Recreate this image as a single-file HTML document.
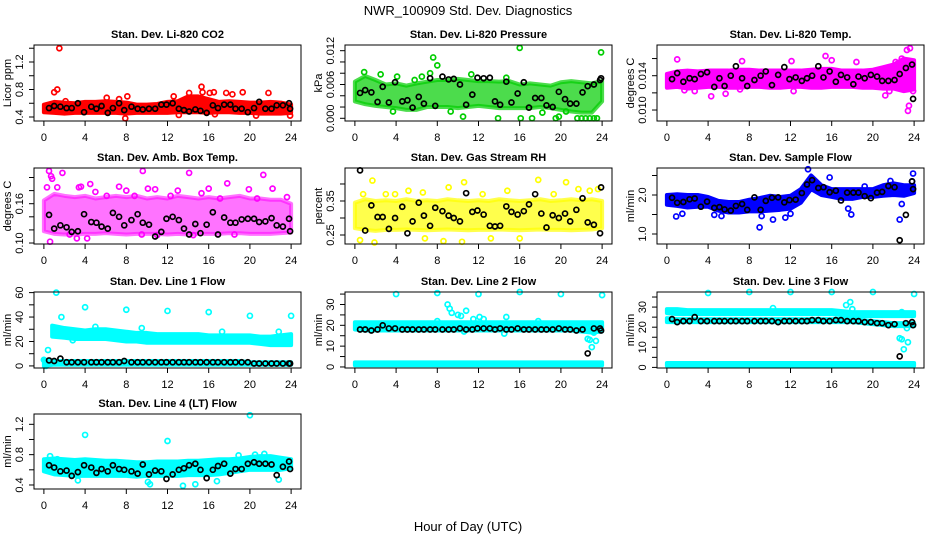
<!DOCTYPE html>
<html><head><meta charset="utf-8"><style>
html,body{margin:0;padding:0;background:#fff;}
svg{display:block;font-family:"Liberation Sans",Arial,sans-serif;}
</style></head><body>
<svg id="chart" width="936" height="540" viewBox="0 0 936 540" xmlns="http://www.w3.org/2000/svg">
<rect x="0" y="0" width="936" height="540" fill="#fff"/>
<text x="468" y="15" text-anchor="middle" font-size="13">NWR_100909 Std. Dev. Diagnostics</text>
<text x="468" y="531" text-anchor="middle" font-size="13">Hour of Day (UTC)</text>
</svg>
<script>
const blackHours = [0.5,1,1.6,2.2,2.7,3.3,3.9, 4.6,5.1,5.6,6.2,6.7,7.3,7.8, 8.5,9.1,9.6,10.2,10.8,11.4,11.9, 12.5,13.1,13.6,14.1,14.7,15.2,15.8, 16.4,16.9,17.5,18.1,18.6,19.2,19.8, 20.4,20.9,21.5,22.1,22.6,23.2,23.8, 23.9];
const bandHours = [0,1,2,3,4,5,6,7,8,9,10,11,12,13,14,15,16,17,18,19,20,21,22,23,24];
const xTicks = [0,4,8,12,16,20,24];

// Panel 1 CO2
const co2Low = [0.47,0.46,0.45,0.46,0.46,0.46,0.46,0.46,0.45,0.46,0.46,0.46,0.46,0.47,0.47,0.47,0.46,0.47,0.47,0.46,0.46,0.45,0.45,0.45,0.46];
const co2High = [0.58,0.62,0.61,0.60,0.62,0.62,0.63,0.62,0.61,0.58,0.58,0.59,0.62,0.63,0.70,0.70,0.66,0.62,0.63,0.62,0.61,0.61,0.62,0.61,0.58];
const co2XH = [1.0,1.3,1.5,2.1,6.1,7.3,8.1,7.9,12.6,13.1,14.1,15.3,15.4,16.1,16.5,17.7,18.3,19.3,20.6,21.8,23.9,16.6];
const co2XV = [0.76,0.80,1.40,0.63,0.68,0.66,0.70,0.38,0.70,0.43,0.75,0.84,0.76,0.75,0.76,0.75,0.73,0.76,0.42,0.75,0.42,0.44];
const co2Black = [0.53,0.56,0.55,0.53,0.53,0.60,0.47, 0.55,0.52,0.56,0.46,0.53,0.60,0.50, 0.55,0.52,0.51,0.52,0.52,0.58,0.58, 0.60,0.52,0.50,0.48,0.51,0.49,0.46, 0.57,0.53,0.58,0.58,0.52,0.52,0.47, 0.53,0.62,0.52,0.52,0.57,0.57,0.60, 0.52];
// Panel 2 Pressure
const presLow = [0.0030,0.0025,0.0022,0.0020,0.0018,0.0015,0.0015,0.0020,0.0020,0.0020,0.0018,0.0020,0.0022,0.0020,0.0018,0.0018,0.0018,0.0018,0.0020,0.0018,0.0015,0.0012,0.0010,0.0010,0.0030];
const presHigh = [0.0065,0.0075,0.0068,0.0060,0.0062,0.0058,0.0062,0.0065,0.0068,0.0068,0.0070,0.0068,0.0066,0.0066,0.0065,0.0066,0.0060,0.0062,0.0060,0.0058,0.0064,0.0066,0.0064,0.0062,0.0066];
const presXH = [7.6,8.0,7.3,16.0,23.9,13.9,16.1,17.2,19.5,21.6,22.0,22.4,22.8,23.2,23.5,0.9,4.1,5.8,19.8,10.5,3.7,20.5,2.5,6.5,9.3,11.3,14.7,18.2];
const presXV = [0.0108,0.0094,0.0080,0.0125,0.0117,0,0,0,0,0,0,0,0,0,0,0.0082,0.0074,0.0068,0.0003,0.0003,0.0012,0.0012,0.0078,0.0074,0.0012,0.0078,0.0072,0.0010];
const presBlack = [0.0045,0.0050,0.0046,0.0029,0.0056,0.0028,0.0064, 0.0030,0.0032,0.0019,0.0038,0.0026,0.0071,0.0022, 0.0074,0.0069,0.0070,0.0060,0.0024,0.0042,0.0072, 0.0071,0.0072,0.0030,0.0024,0.0065,0.0028,0.0044, 0.0064,0.0019,0.0036,0.0036,0.0023,0.0020,0.0047, 0.0034,0.0026,0.0026,0.0046,0.0057,0.0060,0.0068, 0.0071];
// Panel 3 Li-820 Temp
const tempLow = [0.0126,0.0127,0.0125,0.0126,0.0127,0.0127,0.0126,0.0126,0.0127,0.0127,0.0126,0.0126,0.0127,0.0127,0.0126,0.0126,0.0127,0.0127,0.0127,0.0126,0.0126,0.0125,0.0125,0.0122,0.0124];
const tempHigh = [0.0142,0.0145,0.0146,0.0145,0.0146,0.0146,0.0146,0.0147,0.0147,0.0146,0.0146,0.0146,0.0146,0.0146,0.0147,0.0148,0.0148,0.0146,0.0146,0.0146,0.0147,0.0150,0.0153,0.0160,0.0158];
const tempXH = [1.0,1.7,2.7,4.3,5.7,7.3,7.1,12.1,12.3,15.4,16.0,18.4,21.2,21.6,22.8,23.3,23.6,23.5,23.4,23.9,22.2];
const tempXV = [0.0159,0.0123,0.0122,0.0116,0.0119,0.0157,0.0124,0.0157,0.0122,0.0163,0.0158,0.0156,0.0117,0.0122,0.0160,0.0170,0.0172,0.0105,0.0099,0.0122,0.0156];
const tempBlack = [0.0136,0.0143,0.0133,0.0137,0.0136,0.0142,0.0144, 0.0127,0.0137,0.0128,0.0140,0.0151,0.0137,0.0128, 0.0135,0.0140,0.0145,0.0129,0.0141,0.0150,0.0136, 0.0138,0.0134,0.0137,0.0140,0.0151,0.0138,0.0145, 0.0133,0.0141,0.0138,0.0130,0.0139,0.0137,0.0141, 0.0139,0.0134,0.0134,0.0135,0.0142,0.0149,0.0153, 0.0113];
// Panel 4 Amb Box Temp
const ambLow = [0.118,0.114,0.113,0.113,0.114,0.114,0.115,0.114,0.113,0.114,0.114,0.114,0.113,0.114,0.113,0.114,0.114,0.114,0.115,0.115,0.114,0.114,0.114,0.115,0.116];
const ambHigh = [0.165,0.175,0.172,0.170,0.172,0.168,0.170,0.172,0.170,0.172,0.168,0.170,0.168,0.172,0.170,0.168,0.170,0.168,0.170,0.172,0.168,0.168,0.166,0.166,0.160];
const ambXH = [0.3,0.5,0.7,0.8,1.8,0.6,3.4,3.2,4.2,4.5,7.3,8.0,9.6,10.1,10.8,13.0,14.1,16.0,17.8,19.9,21.3,22.2,23.6,3.6,12.3,15.3,8.8,6.1,1.3,5.0,17.1,20.7,11.0,14.5,18.5,2.5,9.5];
const ambXV = [0.185,0.210,0.202,0.198,0.207,0.102,0.185,0.107,0.107,0.190,0.186,0.180,0.210,0.183,0.182,0.180,0.207,0.183,0.191,0.182,0.204,0.183,0.170,0.186,0.172,0.176,0.172,0.172,0.185,0.178,0.168,0.168,0.112,0.112,0.113,0.113,0.113];
const ambBlack = [0.143,0.122,0.127,0.124,0.117,0.118,0.144, 0.132,0.131,0.125,0.122,0.146,0.140,0.127, 0.135,0.144,0.131,0.128,0.110,0.117,0.137, 0.140,0.135,0.122,0.113,0.129,0.115,0.128, 0.147,0.113,0.139,0.131,0.131,0.136,0.137, 0.137,0.132,0.133,0.138,0.127,0.125,0.137, 0.118];
// Panel 5 Gas Stream RH
const rhLow = [0.270,0.265,0.262,0.265,0.265,0.266,0.265,0.264,0.265,0.266,0.265,0.264,0.265,0.265,0.266,0.265,0.264,0.265,0.266,0.265,0.265,0.264,0.265,0.266,0.270];
const rhHigh = [0.345,0.355,0.350,0.352,0.350,0.355,0.350,0.352,0.350,0.355,0.352,0.350,0.352,0.350,0.355,0.352,0.350,0.352,0.355,0.350,0.352,0.355,0.352,0.355,0.350];
const rhXH = [0.5,1.7,1.9,0.8,3.9,5.2,6.6,9.1,10.6,10.4,8.6,12.4,14.8,17.8,20.5,21.7,22.8,23.6,13.2,16.0,6.8,19.3,3.0];
const rhXV = [0.235,0.410,0.228,0.370,0.370,0.380,0.375,0.390,0.405,0.230,0.232,0.370,0.380,0.412,0.405,0.385,0.380,0.385,0.240,0.240,0.240,0.370,0.370];
const rhBlack = [0.440,0.263,0.337,0.303,0.303,0.268,0.300, 0.333,0.255,0.290,0.345,0.307,0.277,0.330, 0.320,0.307,0.300,0.290,0.373,0.318,0.322, 0.310,0.277,0.275,0.277,0.334,0.318,0.310, 0.320,0.340,0.370,0.313,0.272,0.308,0.300, 0.313,0.290,0.324,0.358,0.287,0.280,0.255, 0.390];
// Panel 6 Sample Flow
const flowLow = [1.75,1.72,1.68,1.70,1.70,1.60,1.55,1.55,1.58,1.58,1.60,1.62,1.65,1.80,2.15,2.00,1.95,1.90,1.90,1.95,1.95,1.98,2.00,1.98,2.05];
const flowHigh = [2.00,2.02,2.00,2.00,1.95,1.85,1.82,1.82,1.88,1.92,1.98,1.95,1.98,2.15,2.50,2.25,2.15,2.15,2.15,2.15,2.15,2.25,2.30,2.25,2.25];
const flowXH = [0.9,1.5,4.6,5.3,9.0,9.2,10.3,11.5,12.0,13.7,15.8,17.6,17.9,22.6,22.8,23.9,23.8,19.2,21.7];
const flowXV = [1.45,1.52,1.49,1.46,1.17,1.46,1.37,1.42,1.52,2.66,2.45,1.65,1.50,1.37,1.77,2.55,2.35,2.22,2.36];
const flowBlack = [1.93,1.80,1.82,1.89,1.91,1.70,1.83, 1.67,1.69,1.63,1.60,1.72,1.77,1.62, 1.94,1.62,1.85,1.93,1.94,1.81,1.87, 1.88,2.05,2.27,2.38,2.18,2.20,2.07, 2.11,1.86,2.06,2.06,2.06,1.97,1.92, 2.06,2.08,2.23,2.20,0.84,1.49,2.35, 2.15];
// Panel 7 Line 1 Flow
const l1BandHours = [0.8,2,3,4,5,6,7,8,9,10,11,12,13,14,15,16,17,18,19,20,21,22,23,24];
const l1High = [33,31,30,29,30,30,29,28,27,27,26,26,26,26,26,25,25,25,25,25,24,24,25,26];
const l1Low = [24,23,22,22,22,22,21,20,20,19,19,19,19,19,19,19,19,19,19,19,18,17,17,17];
const l1BaseLow = [0,1,1,1,1,1,1,1,1,1,1,1,1,1,1,1,1,1,1,1,1,1,1,1,1];
const l1BaseHigh = [5,4,4,4,4,4,4,4,4,4,4,4,4,4,4,4,4,4,4,4,3,3,3,3,3];
const l1XH = [0.0,0.4,0.2,1.2,1.7,4.0,8.0,12.0,16.0,20.0,24.0,1.0,2.8,5.0,9.5,17.3,22.8];
const l1XV = [5,13,0,60,40,48,46,45,44,41,41,27,21,32,31,28,28];
const l1Black = [4.5,4,6,3,3,3,3, 3,3,3,3,3,3,4, 3,3,3,3,3,3,3, 3,3,3,3,3,3,3, 3,3,3,3,3,3,3, 2,2,2,2,2,2,2, 2];
// Panel 8 Line 2 Flow
const l2HighA = [21.5,21.5,21.5,21.5,21.5,21.5,21.5,21.5,21.5,21.5,21.5,21.5,21.5,21.5,21.5,21.5,21.5,21.5,21.5,21.5,21.5,21.5,21.5,21.5,21.5];
const l2LowA = [18,17.5,17.5,17.5,17.5,17.5,17.5,17.5,17.5,17.5,17.5,17.5,17.5,17.5,17.5,17.5,17.5,17.5,17.5,17.5,17.5,17.5,17,16.5,17];
const l2HighB = [2.2,2.2,2.2,2.2,2.2,2.2,2.2,2.2,2.2,2.2,2.2,2.2,2.2,2.2,2.2,2.2,2.2,2.2,2.2,2.2,2.2,2.2,2.2,2.2,2.2];
const l2LowB = [0.8,0.8,0.8,0.8,0.8,0.8,0.8,0.8,0.8,0.8,0.8,0.8,0.8,0.8,0.8,0.8,0.8,0.8,0.8,0.8,0.8,0.8,0.8,0.8,0.8];
const l2XH = [4,8,12,16,20,24,9.0,9.2,9.4,10.0,10.3,10.8,10.6,11.5,12.1,12.5,14.7,14.5,8.0,17.8,22.6,22.8,23.0,23.4,23.2];
const l2XV = [35,35.5,35,36,35,34.5,30,28,26,25,24.5,27,17,23,24,23,24,16,22,22,13.5,13,9.5,12.5,16.5];
const l2Black = [18,18,17.5,18,20,18.5,18.5, 18,18,18,18,18,18,18, 18,18,18,18.5,18,18,18.5, 18.5,18.5,18,18.5,18,18,18.5, 18,18,18,18,18,18,18.5, 18,18,17.5,18,6.5,18.5,18.5, 17.5];
// Panel 9 Line 3 Flow
const l3HighA = [29,29,28.5,28.5,28.5,28.5,28.5,28.5,28.5,28.5,28.5,28.5,28.5,28.5,28.5,28.5,28.5,28,27.5,27.5,27.5,27.5,27.5,27.5,27.5];
const l3LowA = [27,26.5,26.5,26.5,26.5,26.5,26.5,26.5,26.5,26.5,26.5,26.5,26.5,26.5,26.5,26.5,26.5,26,25.5,25.5,25.5,25.5,25.5,25.5,25.5];
const l3HighB = [24.5,24,24,24,24,24,24,24,24,24,24,24,24,24,24,24,24,24,24,23.5,23,22.5,22,22,22];
const l3LowB = [22.5,22.5,22.5,22.5,22.5,22.5,22.5,22.5,22.5,22.5,22.5,22.5,22.5,22.5,22.5,22.5,22.5,22.5,22.5,22,21.5,21,20.5,20.5,20.5];
const l3HighC = [2.2,2.2,2.2,2.2,2.2,2.2,2.2,2.2,2.2,2.2,2.2,2.2,2.2,2.2,2.2,2.2,2.2,2.2,2.2,2.2,2.2,2.2,2.2,2.2,2.2];
const l3LowC = [0.8,0.8,0.8,0.8,0.8,0.8,0.8,0.8,0.8,0.8,0.8,0.8,0.8,0.8,0.8,0.8,0.8,0.8,0.8,0.8,0.8,0.8,0.8,0.8,0.8];
const l3XH = [4,8,12,16,20,24,10.3,17.4,17.8,18.0,22.6,22.8,23.0,23.4,23.3,22.8];
const l3XV = [37,37.5,37.5,37.5,37.5,36.5,29.5,31,32.5,29,14.5,14,9,12.5,19.5,27.5];
const l3Black = [24,22.5,23,23,25,23,23, 23,23,23,23,23,23,23, 23,23,23,23,22.5,23,23, 23,23,23,23.5,23.5,23,23, 23.5,23.5,23,23,23,22.5,22.5, 22,22,21,21.5,5.5,22,22.5, 21];
// Panel 10 Line 4 Flow
const l4Low = [0.58,0.54,0.53,0.52,0.52,0.52,0.52,0.52,0.52,0.51,0.52,0.52,0.52,0.52,0.53,0.53,0.53,0.54,0.56,0.58,0.60,0.60,0.60,0.60,0.62];
const l4High = [0.74,0.75,0.74,0.73,0.74,0.73,0.72,0.72,0.71,0.70,0.70,0.71,0.71,0.71,0.72,0.72,0.73,0.74,0.74,0.75,0.77,0.78,0.78,0.76,0.74];
const l4XH = [4,12,20,3.3,10.1,10.3,13.5,14.7,16.8,22.8,18.9,21.4,20.5,0.6,1.3];
const l4XV = [1.06,0.98,1.32,0.46,0.44,0.41,0.39,0.41,0.45,0.47,0.79,0.81,0.80,0.78,0.74];
const l4Black = [0.66,0.63,0.58,0.59,0.52,0.57,0.66, 0.63,0.56,0.61,0.58,0.66,0.61,0.60, 0.58,0.55,0.67,0.54,0.59,0.58,0.48, 0.54,0.60,0.62,0.66,0.68,0.60,0.49, 0.60,0.65,0.68,0.55,0.61,0.61,0.68, 0.70,0.68,0.68,0.67,0.53,0.64,0.71, 0.61];

const NS = "http://www.w3.org/2000/svg";
const svg = document.getElementById("chart");
function mk(tag, attrs, parent){ const e=document.createElementNS(NS,tag); for(const k in attrs) e.setAttribute(k,attrs[k]); (parent||svg).appendChild(e); return e; }

const colL = [34,345,657], colW = 267;
const rowT = [45,168,292,414], rowH = 76;

const panels = [
 {key:"co2",title:"Stan. Dev. Li-820 CO2",yl:"Licor ppm",col:0,row:0,ymin:0.342,ymax:1.447,ticks:[0.4,0.6,0.8,1.0,1.2,1.4],labels:[0.4,0.8,1.2],fmt:1,color:"#ff0000",bands:[[bandHours,co2Low,co2High]],xh:co2XH,xv:co2XV,black:co2Black,op:1},
 {key:"pressure",title:"Stan. Dev. Li-820 Pressure",yl:"kPa",col:1,row:0,ymin:-0.00048,ymax:0.01301,ticks:[0,0.002,0.004,0.006,0.008,0.010,0.012],labels:[0,0.006,0.012],fmt:3,color:"#00cd00",bands:[[bandHours,presLow,presHigh]],xh:presXH,xv:presXV,black:presBlack,op:0.7},
 {key:"li820-temp",title:"Stan. Dev. Li-820 Temp.",yl:"degrees C",col:2,row:0,ymin:0.00872,ymax:0.01758,ticks:[0.010,0.012,0.014,0.016],labels:[0.010,0.014],fmt:3,color:"#ff00ff",bands:[[bandHours,tempLow,tempHigh]],xh:tempXH,xv:tempXV,black:tempBlack,op:1},
 {key:"amb-box-temp",title:"Stan. Dev. Amb. Box Temp.",yl:"degrees C",col:0,row:1,ymin:0.0985,ymax:0.2145,ticks:[0.10,0.12,0.14,0.16,0.18,0.20],labels:[0.10,0.16],fmt:2,color:"#ff00ff",bands:[[bandHours,ambLow,ambHigh]],xh:ambXH,xv:ambXV,black:ambBlack,op:0.55},
 {key:"gas-stream-rh",title:"Stan. Dev. Gas Stream RH",yl:"percent",col:1,row:1,ymin:0.2235,ymax:0.447,ticks:[0.25,0.30,0.35,0.40],labels:[0.25,0.35],fmt:2,color:"#ffff00",bands:[[bandHours,rhLow,rhHigh]],xh:rhXH,xv:rhXV,black:rhBlack,op:0.7},
 {key:"sample-flow",title:"Stan. Dev. Sample Flow",yl:"ml/min",col:2,row:1,ymin:0.744,ymax:2.692,ticks:[1.0,1.5,2.0,2.5],labels:[1.0,2.0],fmt:1,color:"#0000ff",bands:[[bandHours,flowLow,flowHigh]],xh:flowXH,xv:flowXV,black:flowBlack,op:1},
 {key:"line1-flow",title:"Stan. Dev. Line 1 Flow",yl:"ml/min",col:0,row:2,ymin:-1.7,ymax:60.5,ticks:[0,10,20,30,40,50,60],labels:[0,20,40,60],fmt:0,color:"#00ffff",bands:[[l1BandHours,l1Low,l1High],[bandHours,l1BaseLow,l1BaseHigh]],xh:l1XH,xv:l1XV,black:l1Black,op:1},
 {key:"line2-flow",title:"Stan. Dev. Line 2 Flow",yl:"ml/min",col:1,row:2,ymin:-0.5,ymax:36,ticks:[0,5,10,15,20,25,30,35],labels:[0,10,20,30],fmt:0,color:"#00ffff",bands:[[bandHours,l2LowA,l2HighA],[bandHours,l2LowB,l2HighB]],xh:l2XH,xv:l2XV,black:l2Black,op:1},
 {key:"line3-flow",title:"Stan. Dev. Line 3 Flow",yl:"ml/min",col:2,row:2,ymin:-0.3,ymax:37.5,ticks:[0,5,10,15,20,25,30,35],labels:[0,10,20,30],fmt:0,color:"#00ffff",bands:[[bandHours,l3LowA,l3HighA],[bandHours,l3LowB,l3HighB],[bandHours,l3LowC,l3HighC]],xh:l3XH,xv:l3XV,black:l3Black,op:1},
 {key:"line4-flow",title:"Stan. Dev. Line 4 (LT) Flow",yl:"ml/min",col:0,row:3,ymin:0.347,ymax:1.336,ticks:[0.4,0.6,0.8,1.0,1.2],labels:[0.4,0.8,1.2],fmt:1,color:"#00ffff",bands:[[bandHours,l4Low,l4High]],xh:l4XH,xv:l4XV,black:l4Black,op:1}
];

panels.forEach(p=>{
  const L=colL[p.col], T=rowT[p.row], W=colW, H=(p.row===3?75:rowH);
  const R=L+W, B=T+H;
  const xs = h => L + (h + 0.96) / 25.92 * W;
  const ys = v => B - (v - p.ymin) / (p.ymax - p.ymin) * H;
  const g = mk("g",{});
  
  
  const t = mk("text",{x:(L+R)/2,y:T-7,"text-anchor":"middle","font-size":"11","font-weight":"bold"},g);
  t.textContent = p.title;
  
  
  p.bands.forEach(bd=>{
    const hrs=bd[0], lo=bd[1], hi=bd[2];
    let pts=[];
    for(let i=0;i<hrs.length;i++) pts.push(xs(hrs[i])+","+ys(hi[i]));
    for(let i=hrs.length-1;i>=0;i--) pts.push(xs(hrs[i])+","+ys(lo[i]));
    const poly = mk("polygon",{points:pts.join(" "),fill:p.color,"fill-opacity":p.op,stroke:p.color,"stroke-width":"4","stroke-linejoin":"round","stroke-opacity":p.op},g);
    
    
  });
  for(let i=0;i<p.xh.length;i++){
    const c = mk("circle",{cx:xs(p.xh[i]),cy:ys(p.xv[i]),r:"2.5",fill:"none",stroke:p.color,"stroke-width":"1.7"},g);
    
    
  }
  for(let i=0;i<blackHours.length;i++){
    const c = mk("circle",{cx:xs(blackHours[i]),cy:ys(p.black[i]),r:"2.5",fill:"none",stroke:"#000","stroke-width":"1.7"},g);
    
    
  }
  const box = mk("rect",{x:L,y:T,width:W,height:H,fill:"none",stroke:"#000","stroke-width":"1"},g);
  
  
  const xa = mk("g",{},g);
  
  
  xTicks.forEach(h=>{
    mk("line",{x1:xs(h),x2:xs(h),y1:B,y2:B+5,stroke:"#000","stroke-width":"1"},xa);
    const tx = mk("text",{x:xs(h),y:B+20,"text-anchor":"middle","font-size":"11"},xa);
    tx.textContent = h;
  });
  const ya = mk("g",{},g);
  
  
  mk("line",{x1:L,x2:L,y1:ys(p.ticks[0]),y2:ys(p.ticks[p.ticks.length-1]),stroke:"#000","stroke-width":"1"},ya);
  p.ticks.forEach(v=>{
    mk("line",{x1:L-5,x2:L,y1:ys(v),y2:ys(v),stroke:"#000","stroke-width":"1"},ya);
  });
  p.labels.forEach(v=>{
    const x=L-11, y=ys(v);
    const tx = mk("text",{x:x,y:y,"text-anchor":"middle","font-size":"11",transform:"rotate(-90 "+x+" "+y+")"},ya);
    tx.textContent = v.toFixed(p.fmt);
  });
  const yx=L-23, yy=(T+B)/2;
  const yt = mk("text",{x:yx,y:yy,"text-anchor":"middle","font-size":"11",transform:"rotate(-90 "+yx+" "+yy+")"},g);
  yt.textContent = p.yl;
  
  
});
</script>
</body></html>
